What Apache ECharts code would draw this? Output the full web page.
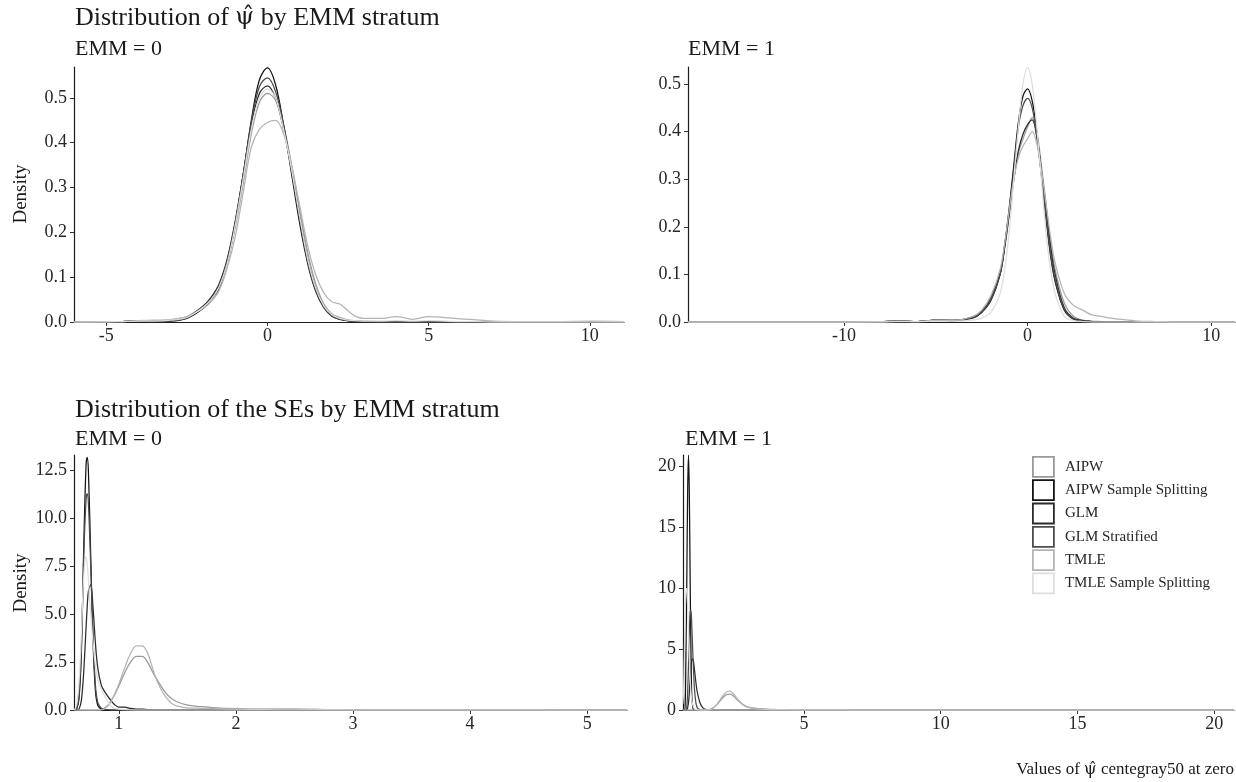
<!DOCTYPE html>
<html>
<head>
<meta charset="utf-8">
<script src="https://cdn.jsdelivr.net/npm/echarts@6/dist/echarts.min.js"></script>
<style>
html,body{margin:0;padding:0;background:#fff;}
#c{width:1236px;height:782px;}
</style>
</head>
<body>
<div id="c"></div>
<script>
// ---------- DATA ----------
const methods = ["AIPW","AIPW Sample Splitting","GLM","GLM Stratified","TMLE","TMLE Sample Splitting"];
const methodColors = ["#9a9a9a","#141414","#2b2b2b","#4d4d4d","#b4b4b4","#dedede"];

// Panel 1: psi-hat, EMM = 0
const x1 = [-6,-5,-4.5,-4,-3.5,-3,-2.5,-2,-1.75,-1.5,-1.25,-1,-0.75,-0.5,-0.25,0,0.25,0.5,0.75,1,1.25,1.5,1.75,2,2.25,2.5,2.75,3,3.5,4,4.5,5,5.5,6,6.5,7,8,9,10,11.06];
const p1_AIPW   = [0,0,0.001,0.002,0.002,0.004,0.012,0.035,0.052,0.08,0.13,0.21,0.31,0.42,0.49,0.51,0.495,0.44,0.35,0.25,0.155,0.085,0.04,0.018,0.01,0.005,0.003,0.002,0.001,0.001,0.001,0.001,0,0,0,0,0,0,0,0];
const p1_AIPWSS = [0,0,0.001,0.003,0.001,0.002,0.008,0.03,0.05,0.075,0.13,0.22,0.33,0.45,0.54,0.567,0.53,0.44,0.33,0.22,0.13,0.068,0.032,0.013,0.006,0.003,0.001,0.001,0,0,0,0,0,0,0,0,0,0,0,0];
const p1_GLM    = [0,0.001,0.001,0.003,0.002,0.003,0.01,0.035,0.055,0.085,0.14,0.225,0.33,0.44,0.51,0.527,0.5,0.43,0.34,0.235,0.14,0.075,0.035,0.015,0.007,0.003,0.002,0.001,0.001,0,0,0,0,0,0,0,0,0,0.001,0];
const p1_GLMS   = [0,0,0.001,0.002,0.001,0.002,0.009,0.032,0.05,0.08,0.135,0.22,0.33,0.445,0.525,0.545,0.515,0.44,0.34,0.23,0.135,0.07,0.033,0.014,0.006,0.003,0.001,0.001,0,0,0,0,0,0,0,0,0,0,0,0];
const p1_TMLE   = [0,0.001,0.001,0.003,0.004,0.006,0.012,0.03,0.045,0.07,0.12,0.19,0.29,0.39,0.43,0.445,0.45,0.42,0.35,0.26,0.17,0.105,0.065,0.045,0.04,0.025,0.012,0.008,0.008,0.012,0.006,0.012,0.01,0.007,0.005,0.002,0.001,0.001,0.002,0.001];
const p1_TMLESS = [0,0,0.001,0.002,0.002,0.004,0.01,0.033,0.05,0.078,0.13,0.215,0.32,0.43,0.5,0.52,0.5,0.43,0.34,0.235,0.14,0.075,0.036,0.016,0.008,0.004,0.003,0.002,0.002,0.003,0.002,0.003,0.002,0.001,0.001,0,0,0,0,0];

// Panel 2: psi-hat, EMM = 1
const x2 = [-18.5,-15,-10,-8,-7,-6,-5,-4,-3,-2.5,-2,-1.5,-1.25,-1,-0.75,-0.5,-0.25,0,0.25,0.5,0.75,1,1.25,1.5,2,2.5,3,3.5,4,4.5,5,5.5,6,7,8,10,11.3];
const p2_AIPW   = [0,0,0,0.001,0.002,0.001,0.004,0.004,0.011,0.024,0.052,0.105,0.16,0.23,0.3,0.355,0.385,0.41,0.43,0.4,0.33,0.25,0.17,0.11,0.04,0.012,0.004,0.002,0.001,0,0,0,0,0,0,0,0];
const p2_AIPWSS = [0,0,0,0.001,0.002,0.001,0.004,0.003,0.008,0.02,0.045,0.1,0.16,0.24,0.33,0.42,0.475,0.49,0.465,0.4,0.31,0.22,0.14,0.085,0.025,0.006,0.002,0.001,0,0,0,0,0,0,0,0,0];
const p2_GLM    = [0,0,0,0.001,0.002,0.001,0.004,0.004,0.01,0.022,0.05,0.1,0.155,0.225,0.3,0.36,0.395,0.415,0.425,0.39,0.32,0.24,0.16,0.1,0.03,0.008,0.003,0.001,0,0,0,0,0,0,0,0,0];
const p2_GLMS   = [0,0,0,0.001,0.002,0.001,0.004,0.003,0.009,0.021,0.047,0.1,0.16,0.235,0.32,0.41,0.455,0.47,0.45,0.39,0.31,0.225,0.145,0.09,0.027,0.007,0.002,0.001,0,0,0,0,0,0,0,0,0];
const p2_TMLE   = [0,0,0,0.001,0.002,0.001,0.004,0.004,0.011,0.025,0.055,0.11,0.165,0.235,0.3,0.345,0.37,0.385,0.4,0.375,0.32,0.25,0.18,0.125,0.06,0.035,0.025,0.015,0.012,0.008,0.006,0.004,0.002,0.001,0,0,0];
const p2_TMLESS = [0,0,0,0,0.001,0.001,0.002,0.002,0.004,0.008,0.02,0.06,0.11,0.19,0.3,0.41,0.5,0.535,0.5,0.41,0.3,0.19,0.11,0.06,0.012,0.003,0.001,0,0,0,0,0,0,0,0,0,0];

// Panel 3: SEs, EMM = 0
const x3 = [0.62,0.64,0.66,0.68,0.70,0.72,0.73,0.74,0.76,0.78,0.80,0.82,0.85,0.88,0.92,0.96,1.0,1.05,1.1,1.15,1.2,1.25,1.3,1.35,1.4,1.45,1.5,1.6,1.7,1.8,2.0,2.2,2.5,2.8,3.0,3.3,3.6,4,5,5.34];
const p3_AIPW   = [0,0,0,0,0,0,0,0,0,0,0,0,0.01,0.1,0.35,0.75,1.25,1.95,2.5,2.8,2.8,2.45,1.85,1.35,0.9,0.6,0.42,0.24,0.18,0.13,0.07,0.04,0.04,0.02,0.015,0.01,0.005,0.003,0,0];
const p3_AIPWSS = [0,0.05,0.6,3,8.5,12.8,13.2,12.5,8,3.5,1,0.25,0.05,0.01,0,0,0,0,0,0,0,0,0,0,0,0,0,0,0,0,0,0,0,0,0,0,0,0,0,0];
const p3_GLM    = [0,0,0.05,0.5,2,4.3,5.4,6.2,6.55,5.3,3.5,2.2,1.3,0.95,0.6,0.3,0.15,0.15,0.08,0.05,0.04,0.02,0.01,0.01,0.01,0.005,0.005,0.003,0.002,0.002,0.001,0,0,0,0,0,0,0,0,0];
const p3_GLMS   = [0,0.1,0.8,3.2,8,11,11.3,10.8,7.5,3.8,1.3,0.4,0.1,0.03,0.01,0,0,0,0,0,0,0,0,0,0,0,0,0,0,0,0,0,0,0,0,0,0,0,0,0];
const p3_TMLE   = [0,0,0,0,0,0,0,0,0,0,0,0,0.01,0.08,0.32,0.78,1.35,2.2,2.95,3.35,3.35,2.9,1.95,1.2,0.68,0.35,0.2,0.1,0.09,0.08,0.05,0.03,0.05,0.02,0.01,0.005,0.003,0.002,0,0];
const p3_TMLESS = [0,0.3,1.5,4,7,8,7.6,6.8,5,3.5,2.3,1.6,1.1,0.7,0.3,0.1,0.05,0.02,0.01,0,0,0,0,0,0,0,0,0,0,0,0,0,0,0,0,0,0,0,0,0];

// Panel 4: SEs, EMM = 1
const x4 = [0.57,0.6,0.63,0.66,0.69,0.72,0.75,0.78,0.81,0.84,0.87,0.9,0.94,0.97,1.0,1.05,1.1,1.2,1.3,1.4,1.5,1.6,1.7,1.8,1.9,2.0,2.1,2.2,2.3,2.4,2.5,2.6,2.8,3.0,3.3,3.6,4.0,4.5,5,6,7,10,15,20.72];
const p4_AIPW   = [0,0,0,0,0,0,0,0,0,0,0,0,0,0,0,0,0,0,0,0,0.02,0.08,0.2,0.4,0.65,0.92,1.15,1.28,1.3,1.2,0.98,0.75,0.4,0.22,0.12,0.07,0.04,0.02,0.01,0.005,0,0,0,0];
const p4_AIPWSS = [0,0,0,0.5,5,11,18,20.96,18,11,5,1.2,0.2,0.02,0,0,0,0,0,0,0,0,0,0,0,0,0,0,0,0,0,0,0,0,0,0,0,0,0,0,0,0,0,0];
const p4_GLM    = [0,0,0,0,0,0,0.2,0.6,1.4,2.5,3.5,4.1,4.2,3.9,3.3,2.3,1.5,0.6,0.2,0.05,0.02,0,0,0,0,0,0,0,0,0,0,0,0,0,0,0,0,0,0,0,0,0,0,0];
const p4_GLMS   = [0,0,0,0,0,0.3,1.5,3.6,6,8,8.2,7,4.6,3,1.7,0.6,0.2,0.03,0,0,0,0,0,0,0,0,0,0,0,0,0,0,0,0,0,0,0,0,0,0,0,0,0,0];
const p4_TMLE   = [0,0,0,0,0,0,0,0,0,0,0,0,0,0,0,0,0,0,0,0,0.01,0.07,0.2,0.42,0.72,1.05,1.35,1.52,1.55,1.4,1.12,0.82,0.4,0.2,0.1,0.06,0.03,0.015,0.008,0.003,0,0,0,0];
const p4_TMLESS = [0.5,1.5,4.5,8,9.8,10,8.5,6.5,4.5,2.8,1.5,0.8,0.4,0.2,0.1,0.03,0.01,0,0,0,0,0,0,0,0,0,0,0,0,0,0,0,0,0,0,0,0,0,0,0,0,0,0,0];

// Axis ranges and ticks
const xRanges = [[-6,11.06],[-18.5,11.3],[0.617,5.34],[0.58,20.72]];
const yRanges = [[0,0.569],[0,0.536],[0,13.32],[0,20.96]];
const xTicks = [[-5,0,5,10],[-10,0,10],[1,2,3,4,5],[5,10,15,20]];
const yTicks = [[0,0.1,0.2,0.3,0.4,0.5],[0,0.1,0.2,0.3,0.4,0.5],[0,2.5,5,7.5,10,12.5],[0,5,10,15,20]];
const yDecimals = [1,1,1,0];

const PSIHAT = "\u03C8\u0302";
const title1Parts = ["Distribution of ", PSIHAT, " by EMM stratum"];
const title2 = "Distribution of the SEs by EMM stratum";
const subtitles = ["EMM = 0","EMM = 1","EMM = 0","EMM = 1"];
const yName = "Density";
const captionParts = ["Values of ", PSIHAT, " centegray50 at zero"];

// ---------- BUILD ----------
const panelX = [x1,x2,x3,x4];
const panelY = [
  [p1_AIPW,p1_AIPWSS,p1_GLM,p1_GLMS,p1_TMLE,p1_TMLESS],
  [p2_AIPW,p2_AIPWSS,p2_GLM,p2_GLMS,p2_TMLE,p2_TMLESS],
  [p3_AIPW,p3_AIPWSS,p3_GLM,p3_GLMS,p3_TMLE,p3_TMLESS],
  [p4_AIPW,p4_AIPWSS,p4_GLM,p4_GLMS,p4_TMLE,p4_TMLESS]
];

const FONT = "'Liberation Serif','DejaVu Serif',serif";
const PSIFONT = "'DejaVu Serif','Noto Sans',serif";
const grids = [
  {left:74, top:67, width:550, height:255},
  {left:688, top:67, width:547, height:255},
  {left:74, top:455, width:553, height:255},
  {left:683, top:455, width:551, height:255}
];

const xAxes = [], yAxes = [], series = [];
for (let i=0;i<4;i++){
  xAxes.push({
    type:'value', gridIndex:i, min:xRanges[i][0], max:xRanges[i][1],
    axisLine:{show:true,onZero:false,lineStyle:{color:'#1a1a1a',width:1.2}},
    axisTick:{show:true,length:4,customValues:xTicks[i],lineStyle:{color:'#333',width:1}},
    axisLabel:{customValues:xTicks[i],fontSize:18,color:'#262626',fontFamily:FONT,margin:5,
      formatter:v=>String(v)},
    splitLine:{show:false}
  });
  const d = yDecimals[i];
  yAxes.push({
    type:'value', gridIndex:i, min:yRanges[i][0], max:yRanges[i][1],
    axisLine:{show:true,onZero:false,lineStyle:{color:'#1a1a1a',width:1.2}},
    axisTick:{show:true,length:4,customValues:yTicks[i],lineStyle:{color:'#333',width:1}},
    axisLabel:{customValues:yTicks[i],fontSize:18,color:'#262626',fontFamily:FONT,margin:7,
      formatter:v=>Number(v).toFixed(d)},
    splitLine:{show:false}
  });
  for (let j=0;j<methods.length;j++){
    const xs = panelX[i], ys = panelY[i][j];
    series.push({
      name:methods[j], type:'line', xAxisIndex:i, yAxisIndex:i,
      data: xs.map((x,k)=>[x,ys[k]]),
      smooth:0.35, showSymbol:false, symbol:'none', clip:true,
      color:methodColors[j],
      lineStyle:{color:methodColors[j],width:1.25},
      emphasis:{disabled:true}, silent:true, animation:false
    });
  }
}

function txt(x,y,s,size,extra){
  return Object.assign({type:'text',x:x,y:y,style:{text:s,font:size+"px "+FONT,fill:'#1a1a1a',align:'left',verticalAlign:'middle'}},extra||{});
}
function richTxt(x,y,parts,size,align){
  return {type:'text',x:x,y:y,style:{
    text:'{a|'+parts[0]+'}{p|'+parts[1]+'}{a|'+parts[2]+'}',
    align:align, verticalAlign:'middle', fill:'#1a1a1a',
    rich:{
      a:{fontFamily:FONT,fontSize:size,fill:'#1a1a1a'},
      p:{fontFamily:PSIFONT,fontSize:Math.round(size*0.92),fill:'#1a1a1a'}
    }
  }};
}
const graphics = [
  richTxt(75,18,title1Parts,26,'left'),
  txt(75,49,subtitles[0],22),
  txt(688,49,subtitles[1],22),
  txt(75,410,title2,26),
  txt(75,439,subtitles[2],22),
  txt(685,439,subtitles[3],22),
  {type:'text',x:21,y:194,rotation:Math.PI/2,style:{text:yName,font:"19px "+FONT,fill:'#1a1a1a',align:'center',verticalAlign:'middle'}},
  {type:'text',x:21,y:583,rotation:Math.PI/2,style:{text:yName,font:"19px "+FONT,fill:'#1a1a1a',align:'center',verticalAlign:'middle'}},
  richTxt(1234,770,captionParts,17,'right')
];

const chart = echarts.init(document.getElementById('c'),null,{renderer:'canvas'});
chart.setOption({
  backgroundColor:'#fff',
  animation:false,
  grid:grids,
  xAxis:xAxes,
  yAxis:yAxes,
  series:series,
  legend:{
    orient:'vertical', left:1027, top:451,
    itemWidth:21, itemHeight:20, itemGap:1.5,
    selectedMode:false,
    textStyle:{fontSize:15,fontFamily:FONT,color:'#262626',padding:[0,0,0,6]},
    data:methods.map((m,j)=>({name:m,icon:'rect',itemStyle:{color:'#fff',borderColor:methodColors[j],borderWidth:1.8}}))
  },
  graphic:graphics
});
</script>
</body>
</html>
